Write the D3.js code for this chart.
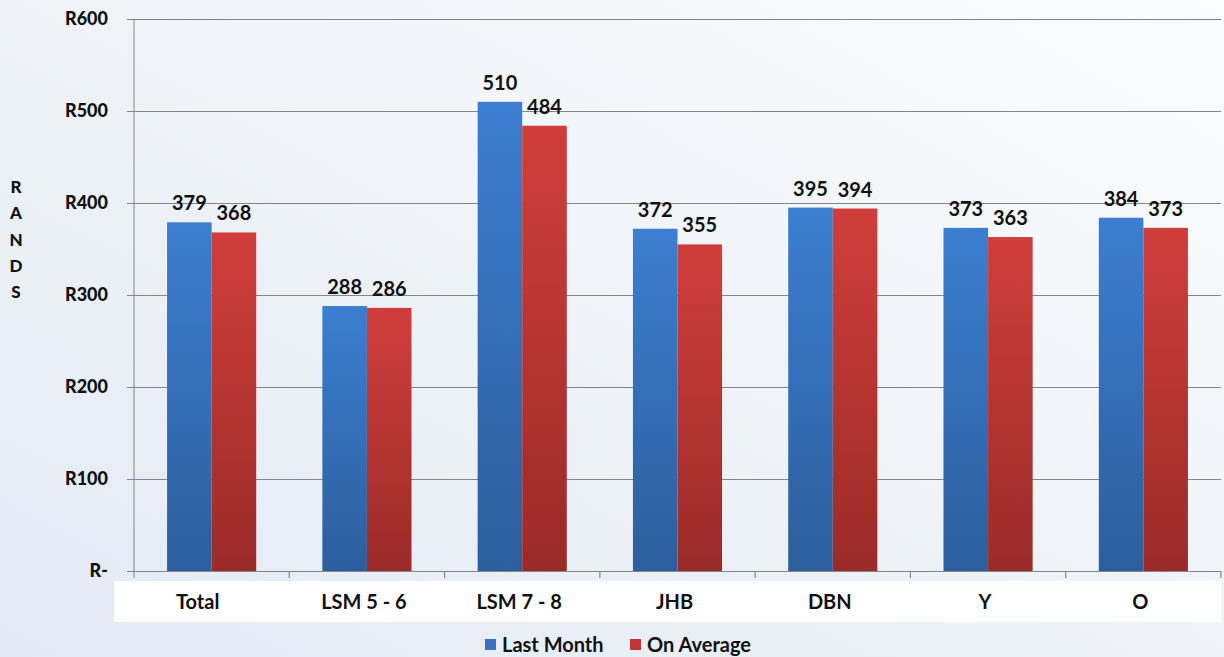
<!DOCTYPE html>
<html><head><meta charset="utf-8">
<script src="https://cdn.jsdelivr.net/npm/d3@7"></script>
<style>body{margin:0;}svg{display:block;}</style>
</head><body>
<svg id="c" width="1224" height="657"></svg>
<script>
const categories = ["Total","LSM 5 - 6","LSM 7 - 8","JHB","DBN","Y","O"];
const lastMonth = [379,288,510,372,395,373,384];
const onAverage = [368,286,484,355,394,363,373];
const seriesNames = ["Last Month","On Average"];
const yTicks = [0,100,200,300,400,500,600];
const yTickLabels = ["R-","R100","R200","R300","R400","R500","R600"];
const axisTitle = ["R","A","N","D","S"];

const svg = d3.select("#c");
const font = "Lato, 'Open Sans', sans-serif";
const defs = svg.append("defs");
const bg = defs.append("linearGradient").attr("id","bg").attr("x1","0").attr("y1","1").attr("x2","1").attr("y2","0");
bg.append("stop").attr("offset","0").attr("stop-color","#e3eaf4");
bg.append("stop").attr("offset","0.5").attr("stop-color","#eff3f8");
bg.append("stop").attr("offset","1").attr("stop-color","#fbfcfd");
const gB = defs.append("linearGradient").attr("id","gb").attr("x1","0").attr("y1","0").attr("x2","0").attr("y2","1");
gB.append("stop").attr("offset","0").attr("stop-color","#3c7ed0");
gB.append("stop").attr("offset","1").attr("stop-color","#2c5e9c");
const gR = defs.append("linearGradient").attr("id","gr").attr("x1","0").attr("y1","0").attr("x2","0").attr("y2","1");
gR.append("stop").attr("offset","0").attr("stop-color","#d03e3b");
gR.append("stop").attr("offset","1").attr("stop-color","#9a2b29");

svg.append("rect").attr("width",1224).attr("height",657).attr("fill","url(#bg)");

const x0 = d3.scaleBand().domain(categories).range([134,1221]).paddingInner(0.426).paddingOuter(0.213);
const x1 = d3.scaleBand().domain(seriesNames).range([0,x0.bandwidth()]);
const y = d3.scaleLinear().domain([0,600]).range([571,19]);

// white label band
svg.append("rect").attr("x",114).attr("y",581).attr("width",1107).attr("height",41).attr("fill","#ffffff");

const yAx = svg.append("g").attr("transform","translate(134,0)")
  .call(d3.axisLeft(y).tickValues(yTicks).tickSize(7).tickFormat((d,i)=>yTickLabels[i]));
yAx.select(".domain").attr("stroke","#858585").attr("d","M0,19V578");
yAx.selectAll(".tick line").attr("stroke","#858585");
yAx.selectAll(".tick text").attr("font-family",font).attr("font-weight","900").attr("font-size","18px").attr("fill","#111").attr("x",-26);
svg.append("g").selectAll("line").data(yTicks).join("line")
  .attr("x1",134).attr("x2",1221).attr("y1",d=>y(d)+0.5).attr("y2",d=>y(d)+0.5)
  .attr("stroke","#858585").attr("stroke-width",1.2);

const step = x0.step();
svg.append("g").selectAll("line").data(d3.range(1,categories.length+1)).join("line")
  .attr("x1",d=>134+d*step).attr("x2",d=>134+d*step).attr("y1",571).attr("y2",578)
  .attr("stroke","#858585").attr("stroke-width",1.2);

const data = categories.map((c,i)=>({c, vals:[lastMonth[i],onAverage[i]]}));
const fills = ["url(#gb)","url(#gr)"];
const g = svg.append("g").selectAll("g").data(data).join("g").attr("transform",d=>`translate(${x0(d.c)},0)`);
g.selectAll("rect").data(d=>d.vals.map((v,j)=>({v,j}))).join("rect")
  .attr("x",d=>x1(seriesNames[d.j])).attr("width",x1.bandwidth())
  .attr("y",d=>y(d.v)).attr("height",d=>y(0)-y(d.v)).attr("fill",d=>fills[d.j]);
g.selectAll("text").data(d=>d.vals.map((v,j)=>({v,j}))).join("text")
  .attr("x",d=>x1(seriesNames[d.j])+x1.bandwidth()/2).attr("y",d=>y(d.v)-12)
  .attr("text-anchor","middle").attr("font-family",font).attr("font-weight","bold").attr("font-size","20px").attr("fill","#111")
  .text(d=>d.v);

svg.append("g").selectAll("text").data(categories).join("text")
  .attr("x",d=>x0(d)+x0.bandwidth()/2 - (d==="Total"?14:3)).attr("y",609)
  .attr("text-anchor","middle").attr("font-family",font).attr("font-weight","bold").attr("font-size","20px").attr("fill","#111")
  .text(d=>d);

svg.append("g").selectAll("text").data(axisTitle).join("text")
  .attr("x",16).attr("y",(d,i)=>193+i*26.3).attr("text-anchor","middle")
  .attr("font-family",font).attr("font-weight","900").attr("font-size","17px").attr("fill","#111").text(d=>d);

const leg = [{n:"Last Month",c:"#3a72bf",x:485},{n:"On Average",c:"#c23633",x:630}];
const lg = svg.append("g").selectAll("g").data(leg).join("g").attr("transform",d=>`translate(${d.x},0)`);
lg.append("rect").attr("x",0).attr("y",639).attr("width",11).attr("height",11).attr("fill",d=>d.c);
lg.append("text").attr("x",17).attr("y",652).attr("font-family",font).attr("font-weight","bold").attr("font-size","20px").attr("fill","#111").text(d=>d.n);
</script>
</body></html>
